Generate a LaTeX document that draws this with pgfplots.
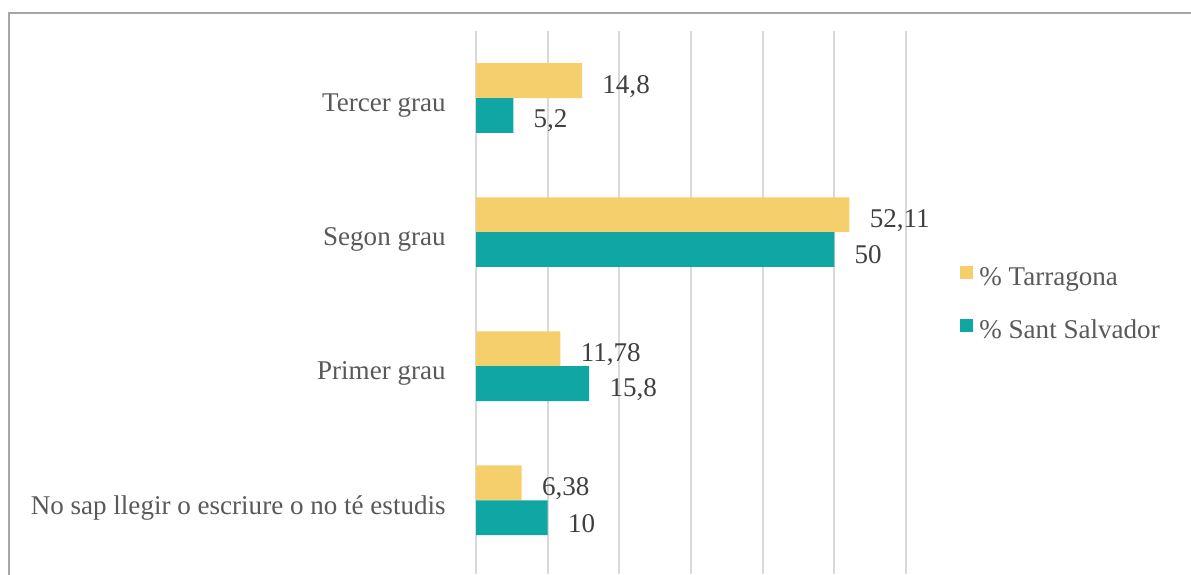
\documentclass[border=0pt]{standalone}
\usepackage{fontspec}
\setmainfont{Liberation Serif}
\usepackage{pgfplots}
\pgfplotsset{compat=1.18}

\definecolor{tarr}{HTML}{F4CF6B}
\definecolor{ssal}{HTML}{0FA6A3}
\definecolor{lbl}{HTML}{595959}
\definecolor{num}{HTML}{404040}
\definecolor{grd}{HTML}{D9D9D9}
\definecolor{frm}{HTML}{A6A6A6}

\newcommand{\chartfont}{\fontsize{15.4}{18}\selectfont}

\begin{document}
\begin{tikzpicture}
\useasboundingbox (0,0) rectangle (238.2mm,114.8mm);
% frame (bottom cut off, as in the source)
\draw[frm, line width=0.4mm] (1.8mm,-1mm) -- (1.8mm,112.2mm) -- (240mm,112.2mm);
\begin{axis}[
    at={(95.2mm,0mm)}, anchor=south west,
    scale only axis, width=86mm, height=108.6mm,
    xbar, bar width=0.26,
    xmin=0, xmax=60, ymin=-0.55, ymax=3.5,
    xtick={0,10,...,60}, xticklabels={},
    xmajorgrids, grid style={grd, line width=0.4mm},
    ytick={0,1,2,3},
    yticklabels={No sap llegir o escriure o no té estudis, Primer grau, Segon grau, Tercer grau},
    axis line style={draw=none},
    major tick length=0pt, tick style={draw=none},
    yticklabel style={font=\chartfont, text=lbl, inner sep=0pt, xshift=-6mm, yshift=-1.5mm},
    clip=false,
    point meta=x,
    nodes near coords={\pgfmathprintnumber[use comma,precision=2,assume math mode=true]{\pgfplotspointmeta}},
    nodes near coords style={font=\chartfont, text=num, anchor=west, inner sep=0pt, xshift=4mm, yshift=-1.1mm},
    legend cell align=left,
    legend image code/.code={\fill[#1] (0mm,-0.2mm) rectangle (2.6mm,2.4mm);},
    legend style={draw=none, fill=none, at={(1.1256,0.498)}, anchor=west,
        inner sep=0pt, row sep=6.1mm, font=\chartfont,
        nodes={inner sep=0pt, text=lbl},
        /tikz/every odd column/.style={column sep=1.2mm}},
]
% % Tarragona
\addplot[fill=tarr, draw=none, bar shift=0.13] coordinates {
    (6.38,0) (11.78,1) (52.11,2) (14.8,3)
};
\addlegendentry{\% Tarragona}
% % Sant Salvador
\addplot[fill=ssal, draw=none, bar shift=-0.13] coordinates {
    (10,0) (15.8,1) (50,2) (5.2,3)
};
\addlegendentry{\% Sant Salvador}
\end{axis}
\end{tikzpicture}
\end{document}
